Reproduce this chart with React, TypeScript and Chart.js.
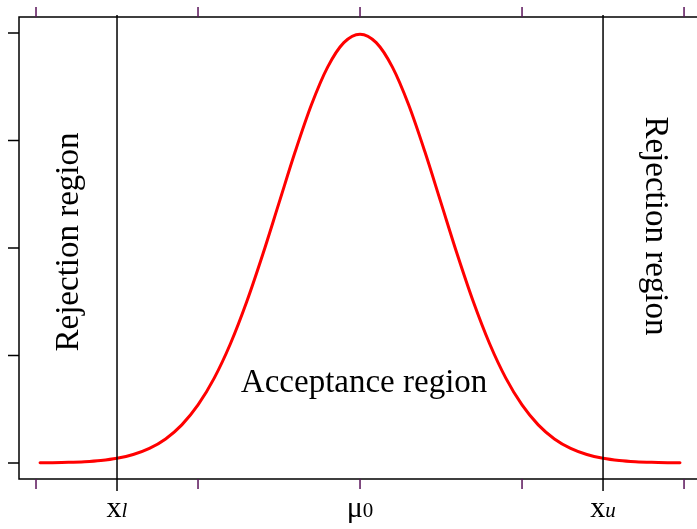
import React, { useEffect, useRef } from "react";
import { Chart, registerables } from "chart.js";

Chart.register(...registerables);

// Standard normal density, sampled along the z axis
const zValues = [
  -3.95, -3.8, -3.6, -3.4, -3.2, -3.0, -2.8, -2.6, -2.4, -2.2, -2.0,
  -1.8, -1.6, -1.4, -1.2, -1.0, -0.8, -0.6, -0.4, -0.2, 0,
  0.2, 0.4, 0.6, 0.8, 1.0, 1.2, 1.4, 1.6, 1.8, 2.0,
  2.2, 2.4, 2.6, 2.8, 3.0, 3.2, 3.4, 3.6, 3.8, 3.95,
];
const densityValues = [
  0.00016, 0.00029, 0.00061, 0.00123, 0.00238, 0.00443, 0.00792, 0.01358, 0.02239, 0.03547, 0.05399,
  0.07895, 0.11092, 0.14973, 0.19419, 0.24197, 0.28969, 0.33322, 0.36827, 0.39104, 0.39894,
  0.39104, 0.36827, 0.33322, 0.28969, 0.24197, 0.19419, 0.14973, 0.11092, 0.07895, 0.05399,
  0.03547, 0.02239, 0.01358, 0.00792, 0.00443, 0.00238, 0.00123, 0.00061, 0.00029, 0.00016,
];

// Critical values bounding the acceptance region
const lowerCritical = -3;
const upperCritical = 3;
const meanValue = 0;

// Axis tick positions (unlabelled)
const xTickValues = [-4, -2, 0, 2, 4];
const yTickValues = [0, 0.1, 0.2, 0.3, 0.4];

// Bottom labels: main symbol + subscript
const axisLabels = [
  { at: lowerCritical, main: "x", sub: "l", subItalic: true },
  { at: meanValue, main: "\u03bc", sub: "0", subItalic: false },
  { at: upperCritical, main: "x", sub: "u", subItalic: true },
];

const regionLabels = {
  reject: "Rejection region",
  accept: "Acceptance region",
};

const SERIF = '"Liberation Serif", "Times New Roman", serif';
const TICK_PURPLE = "#5a145a";

const decorations = {
  id: "decorations",
  afterDraw(chart: any) {
    const { ctx, chartArea, scales } = chart;
    const xs = scales.x;
    const ys = scales.y;
    const { left, top, right, bottom } = chartArea;
    ctx.save();

    // plot frame (left, top, bottom)
    ctx.strokeStyle = "#000";
    ctx.lineWidth = 1.5;
    ctx.lineCap = "butt";
    ctx.beginPath();
    ctx.moveTo(right + 2, top);
    ctx.lineTo(left, top);
    ctx.lineTo(left, bottom);
    ctx.lineTo(right + 2, bottom);
    ctx.stroke();

    // y ticks
    ctx.beginPath();
    yTickValues.forEach((v) => {
      const py = ys.getPixelForValue(v);
      ctx.moveTo(left - 11, py);
      ctx.lineTo(left, py);
    });
    ctx.stroke();

    // x ticks, top and bottom
    ctx.strokeStyle = TICK_PURPLE;
    ctx.beginPath();
    xTickValues.forEach((v) => {
      const px = xs.getPixelForValue(v);
      ctx.moveTo(px, top - 10);
      ctx.lineTo(px, top);
      ctx.moveTo(px, bottom);
      ctx.lineTo(px, bottom + 10);
    });
    ctx.stroke();

    // bottom labels with subscripts
    ctx.fillStyle = "#000";
    ctx.textBaseline = "alphabetic";
    ctx.textAlign = "left";
    const labelBase = bottom + 38;
    axisLabels.forEach((l) => {
      const mainFont = `30px ${SERIF}`;
      const subFont = `${l.subItalic ? "italic " : ""}21px ${SERIF}`;
      ctx.font = mainFont;
      const w1 = ctx.measureText(l.main).width;
      ctx.font = subFont;
      const w2 = ctx.measureText(l.sub).width;
      const start = xs.getPixelForValue(l.at) - (w1 + w2) / 2;
      ctx.font = mainFont;
      ctx.fillText(l.main, start, labelBase);
      ctx.font = subFont;
      ctx.fillText(l.sub, start + w1, labelBase);
    });

    // region labels
    ctx.font = `33px ${SERIF}`;
    ctx.textAlign = "center";

    ctx.save();
    ctx.translate(xs.getPixelForValue(-3.48), ys.getPixelForValue(0.2056));
    ctx.rotate(-Math.PI / 2);
    ctx.fillText(regionLabels.reject, 0, 0);
    ctx.restore();

    ctx.save();
    ctx.translate(xs.getPixelForValue(3.53), ys.getPixelForValue(0.2205));
    ctx.rotate(Math.PI / 2);
    ctx.fillText(regionLabels.reject, 0, 0);
    ctx.restore();

    ctx.fillText(
      regionLabels.accept,
      xs.getPixelForValue(0.05),
      ys.getPixelForValue(0.066)
    );

    ctx.restore();
  },
};

export default function App() {
  const canvasRef = useRef<HTMLCanvasElement | null>(null);

  useEffect(() => {
    const canvas = canvasRef.current;
    if (!canvas) return;
    const curve = zValues.map((z, i) => ({ x: z, y: densityValues[i] }));
    const criticalLine = (v: number) => [
      { x: v, y: -0.026 },
      { x: v, y: 0.4167 },
    ];

    const chart = new Chart(canvas, {
      type: "line",
      data: {
        datasets: [
          {
            data: criticalLine(lowerCritical),
            borderColor: "#000",
            borderWidth: 1.5,
            pointRadius: 0,
            clip: false as any,
            order: 0,
          },
          {
            data: criticalLine(upperCritical),
            borderColor: "#000",
            borderWidth: 1.5,
            pointRadius: 0,
            clip: false as any,
            order: 0,
          },
          {
            data: curve,
            borderColor: "#ff0000",
            borderWidth: 3,
            pointRadius: 0,
            cubicInterpolationMode: "monotone",
            borderCapStyle: "round",
            clip: false as any,
            order: 1,
          },
        ],
      },
      options: {
        animation: false,
        responsive: false,
        devicePixelRatio: 1,
        layout: { padding: { left: 19, top: 17, right: 0, bottom: 50 } },
        scales: {
          x: { type: "linear", min: -4.21, max: 4.16, display: false },
          y: { type: "linear", min: -0.0149, max: 0.4149, display: false },
        },
        plugins: {
          legend: { display: false },
          tooltip: { enabled: false },
        },
      },
      plugins: [decorations],
    });

    return () => chart.destroy();
  }, []);

  return (
    <div style={{ position: "absolute", left: 0, top: 0, width: 697, height: 529, background: "#fff" }}>
      <canvas ref={canvasRef} width={697} height={529} />
    </div>
  );
}
